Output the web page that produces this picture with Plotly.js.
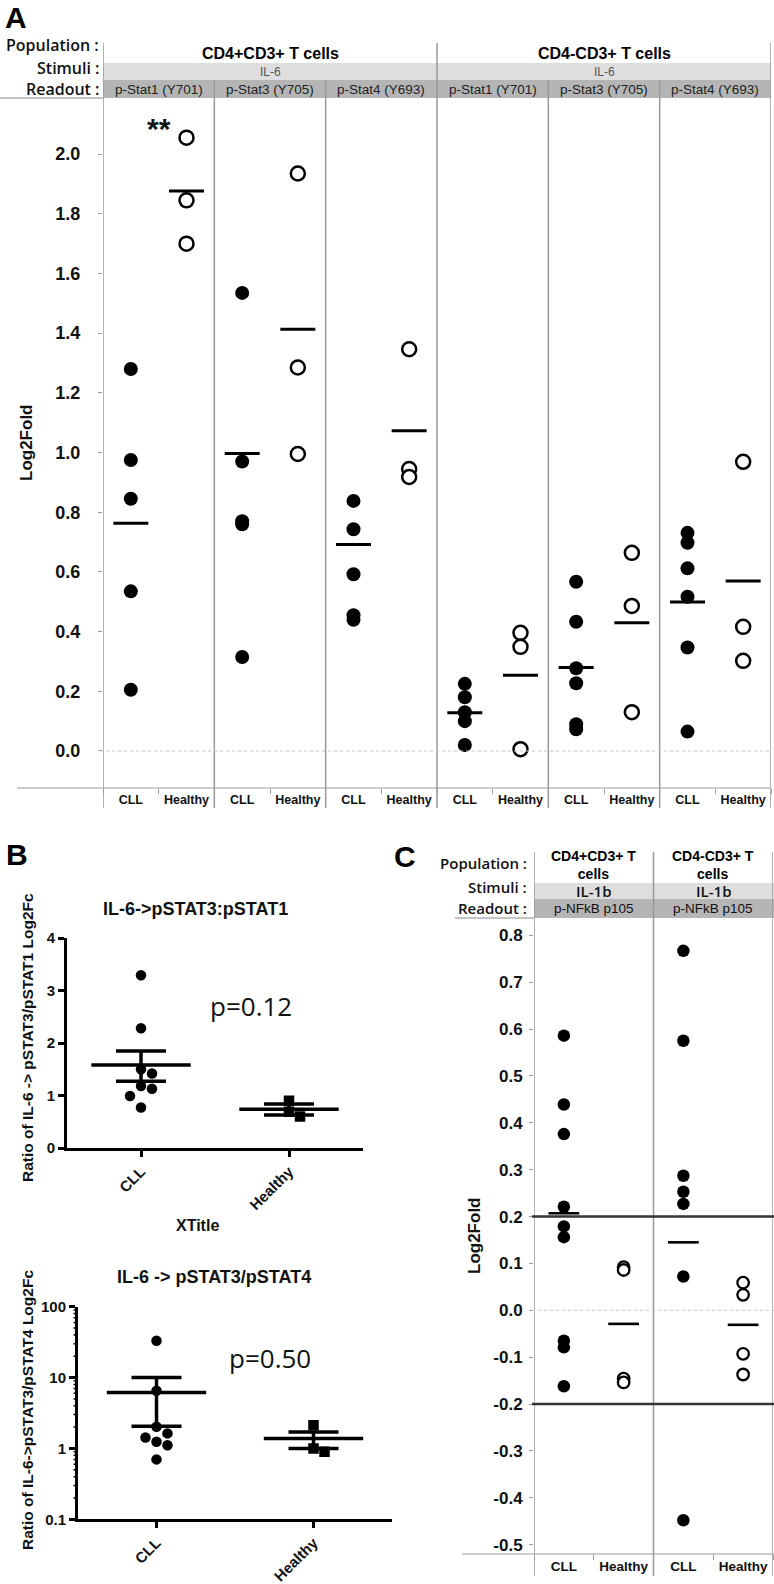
<!DOCTYPE html>
<html><head><meta charset="utf-8">
<script src="https://cdn.plot.ly/plotly-3.0.1.min.js"></script>
<style>html,body{margin:0;padding:0;background:#fff}</style>
</head><body><div id="chart" style="width:774px;height:1584px"></div>
<script>
// ---------------- DATA ----------------
const groups = ['CLL', 'Healthy'];

// Panel A
const aPopulations = ['CD4+CD3+ T cells', 'CD4-CD3+ T cells'];
const aStimulus = 'IL-6';
const aReadouts = ['p-Stat1 (Y701)', 'p-Stat3 (Y705)', 'p-Stat4 (Y693)'];
const aRowLabels = ['Population :', 'Stimuli :', 'Readout :'];
const aYTicks = [0, 0.2, 0.4, 0.6, 0.8, 1.0, 1.2, 1.4, 1.6, 1.8, 2.0];
// panel order: CD4+ Stat1, CD4+ Stat3, CD4+ Stat4, CD4- Stat1, CD4- Stat3, CD4- Stat4
const aCLL_stat1_cd4p = [1.28, 0.975, 0.845, 0.535, 0.205];
const aCLL_stat3_cd4p = [1.535, 0.97, 0.77, 0.76, 0.315];
const aCLL_stat4_cd4p = [0.838, 0.743, 0.592, 0.455, 0.44];
const aCLL_stat1_cd4n = [0.225, 0.18, 0.13, 0.10, 0.02];
const aCLL_stat3_cd4n = [0.567, 0.433, 0.277, 0.227, 0.09, 0.073];
const aCLL_stat4_cd4n = [0.731, 0.698, 0.612, 0.517, 0.347, 0.065];
const aHealthy_stat1_cd4p = [2.055, 1.845, 1.70];
const aHealthy_stat3_cd4p = [1.935, 1.285, 0.995];
const aHealthy_stat4_cd4p = [1.346, 0.945, 0.918];
const aHealthy_stat1_cd4n = [0.396, 0.349, 0.006];
const aHealthy_stat3_cd4n = [0.664, 0.486, 0.13];
const aHealthy_stat4_cd4n = [0.969, 0.416, 0.302];
const aCLLMeans = [0.763, 0.997, 0.692, 0.128, 0.28, 0.499];
const aHealthyMeans = [1.876, 1.413, 1.073, 0.254, 0.43, 0.57];
const aSignif = ['**', '', '', '', '', ''];

// Panel B (top)
const b1Title = 'IL-6->pSTAT3:pSTAT1';
const b1YTitle = 'Ratio of IL-6 -> pSTAT3/pSTAT1 Log2Fc';
const b1XTitle = 'XTitle';
const b1P = 'p=0.12';
const b1YTicks = [0, 1, 2, 3, 4];
const b1CLL = [3.29, 2.28, 1.50, 1.42, 1.18, 1.13, 0.99, 0.77];
const b1Healthy = [0.90, 0.69, 0.60];
const b1Mean = [1.58, 0.74];
const b1SemHigh = [1.85, 0.84];
const b1SemLow = [1.27, 0.63];

// Panel B (bottom)
const b2Title = 'IL-6 -> pSTAT3/pSTAT4';
const b2YTitle = 'Ratio of IL-6->pSTAT3/pSTAT4 Log2Fc';
const b2P = 'p=0.50';
const b2YTicks = [0.1, 1, 10, 100];
const b2YTickText = ['0.1', '1', '10', '100'];
const b2CLL = [33, 6.5, 2.02, 1.63, 1.43, 1.24, 1.11, 0.70];
const b2Healthy = [2.13, 1.0, 0.9];
const b2Mean = [6.17, 1.38];
const b2SemHigh = [10.0, 1.71];
const b2SemLow = [2.05, 1.0];

// Panel C
const cPopulations = ['CD4+CD3+ T<br>cells', 'CD4-CD3+ T<br>cells'];
const cStimulus = 'IL-1b';
const cReadout = 'p-NFkB p105';
const cYTicks = [-0.5, -0.4, -0.3, -0.2, -0.1, 0.0, 0.1, 0.2, 0.3, 0.4, 0.5, 0.6, 0.7, 0.8];
const cCLL_cd4p = [0.586, 0.439, 0.376, 0.221, 0.179, 0.156, -0.065, -0.079, -0.162];
const cCLL_cd4n = [0.767, 0.575, 0.287, 0.253, 0.227, 0.072, -0.448];
const cHealthy_cd4p = [0.092, 0.086, -0.146, -0.154];
const cHealthy_cd4n = [0.059, 0.033, -0.093, -0.137];
const cCLLMeans = [0.207, 0.145];
const cHealthyMeans = [-0.029, -0.031];
const cThresholds = [0.2, -0.2];

// ---------------- LAYOUT HELPERS ----------------
const W = 774, H = 1584;
const X = px => px / W;
const Y = py => 1 - py / H;
const NARROW = "'Liberation Sans Narrow', 'Arial Narrow', 'Liberation Sans', Arial, sans-serif";
const SANS = "'Liberation Sans', Arial, sans-serif";
const OPEN = "'Open Sans', 'Liberation Sans', sans-serif";

const aCLL = [aCLL_stat1_cd4p, aCLL_stat3_cd4p, aCLL_stat4_cd4p, aCLL_stat1_cd4n, aCLL_stat3_cd4n, aCLL_stat4_cd4n];
const aHealthy = [aHealthy_stat1_cd4p, aHealthy_stat3_cd4p, aHealthy_stat4_cd4p, aHealthy_stat1_cd4n, aHealthy_stat3_cd4n, aHealthy_stat4_cd4n];
const cCLL = [cCLL_cd4p, cCLL_cd4n];
const cHealthy = [cHealthy_cd4p, cHealthy_cd4n];

// geometry (pixels)
const A = {l: 103, r: 771, t: 98, b: 788};
const B1 = {l: 67, r: 363, t: 938, b: 1148};
const B2 = {l: 78, r: 392, t: 1306.7, b: 1519.3};
const C = {l: 534, r: 773, t: 918, b: 1554};

const filled = (s) => ({symbol: 'circle', size: s, color: '#000', line: {width: 0}});
const open = (s, w) => ({symbol: 'circle', size: s, color: '#fff', line: {color: '#000', width: w}});
const meanMk = (s, w) => ({symbol: 'line-ew', size: s, color: '#000', line: {color: '#000', width: w}});

// simple beeswarm: returns x offsets in axis units
function swarm(vals, toPx, pxPerUnit, d) {
  const order = vals.map((v, i) => i).sort((a, b) => vals[b] - vals[a]);
  const placed = [];
  const off = vals.map(() => 0);
  const seq = [0, 1, -1, 2, -2, 3, -3];
  for (const i of order) {
    const yp = toPx(vals[i]);
    for (const k of seq) {
      const xo = k * d;
      if (placed.every(p => Math.hypot(p.x - xo, p.y - yp) >= d * 0.98)) {
        off[i] = xo / pxPerUnit; placed.push({x: xo, y: yp}); break;
      }
    }
  }
  return off;
}

const traces = [];
// ---- Panel A traces ----
for (let i = 0; i < aCLL.length; i++) {
  [aCLL[i], aHealthy[i]].forEach((vals, g) => {
    traces.push({type: 'scatter', mode: 'markers', xaxis: 'x', yaxis: 'y', hoverinfo: 'skip',
      x: vals.map(() => 2 * i + g + 0.5), y: vals,
      marker: g === 0 ? filled(14) : open(14, 2.5)});
  });
  traces.push({type: 'scatter', mode: 'markers', xaxis: 'x', yaxis: 'y', hoverinfo: 'skip',
    x: [2 * i + 0.5, 2 * i + 1.5], y: [aCLLMeans[i], aHealthyMeans[i]], marker: meanMk(25, 3)});
}

// ---- Panel B traces ----
function bTraces(cll, healthy, mean, hi, lo, xa, ya, toPx, pxPerUnit) {
  const offC = swarm(cll, toPx, pxPerUnit, 11);
  const offH = swarm(healthy, toPx, pxPerUnit, 11);
  traces.push({type: 'scatter', mode: 'markers', xaxis: xa, yaxis: ya, hoverinfo: 'skip',
    x: cll.map((v, k) => 0 + offC[k]), y: cll, marker: filled(10.5)});
  traces.push({type: 'scatter', mode: 'markers', xaxis: xa, yaxis: ya, hoverinfo: 'skip',
    x: healthy.map((v, k) => 1 + offH[k]), y: healthy, marker: {symbol: 'square', size: 10.5, color: '#000'}});
  traces.push({type: 'scatter', mode: 'markers', xaxis: xa, yaxis: ya, hoverinfo: 'skip',
    x: [0, 1], y: mean, marker: meanMk(71, 3.5),
    error_y: {type: 'data', symmetric: false, array: hi.map((h, k) => h - mean[k]),
      arrayminus: lo.map((l, k) => mean[k] - l), width: 25, thickness: 3.5, color: '#000'}});
}
const b1PxPerY = (B1.b - B1.t) / 4;
bTraces(b1CLL, b1Healthy, b1Mean, b1SemHigh, b1SemLow, 'x2', 'y2', v => -v * b1PxPerY, (B1.r - B1.l) / 2);
const b2PxPerDec = (B2.b - B2.t) / 3;
bTraces(b2CLL, b2Healthy, b2Mean, b2SemHigh, b2SemLow, 'x3', 'y3', v => -Math.log10(v) * b2PxPerDec, (B2.r - B2.l) / 2);

// ---- Panel C traces ----
for (let i = 0; i < cCLL.length; i++) {
  [cCLL[i], cHealthy[i]].forEach((vals, g) => {
    traces.push({type: 'scatter', mode: 'markers', xaxis: 'x4', yaxis: 'y4', hoverinfo: 'skip',
      x: vals.map(() => 2 * i + g + 0.5), y: vals,
      marker: g === 0 ? filled(12.5) : open(11.5, 2.3)});
  });
  traces.push({type: 'scatter', mode: 'markers', xaxis: 'x4', yaxis: 'y4', hoverinfo: 'skip',
    x: [2 * i + 0.5, 2 * i + 1.5], y: [cCLLMeans[i], cHealthyMeans[i]], marker: meanMk(22, 2.6)});
}

// ---------------- SHAPES ----------------
const shapes = [];
const gray = '#9a9a9a';
function rectPx(x0, y0, x1, y1, fill) {
  shapes.push({type: 'rect', xref: 'paper', yref: 'paper', x0: X(x0), x1: X(x1), y0: Y(y1), y1: Y(y0),
    fillcolor: fill, line: {width: 0}, layer: 'below'});
}
function linePx(x0, y0, x1, y1, color, width, dash) {
  shapes.push({type: 'line', xref: 'paper', yref: 'paper', x0: X(x0), x1: X(x1), y0: Y(y0), y1: Y(y1),
    line: {color: color, width: width, dash: dash || 'solid'}});
}
// A header bands
rectPx(A.l, 63, A.r, 80, '#dedede');
rectPx(A.l, 80, A.r, 98, '#b5b5b5');
linePx(0, 98, A.l, 98, '#8a8a8a', 1);
// A separators
for (let k = 0; k <= 6; k++) {
  const outer = (k % 3 === 0);
  shapes.push({type: 'line', xref: 'x', yref: 'paper', x0: 2 * k, x1: 2 * k,
    y0: Y(808), y1: Y(outer ? 43 : 80), line: {color: gray, width: 1.5}});
}
linePx(17, A.b, A.r, A.b, gray, 1.2);
shapes.push({type: 'line', xref: 'paper', yref: 'y', x0: X(100), x1: X(A.r), y0: 0, y1: 0,
  line: {color: '#c4c4c4', width: 1, dash: 'dot'}});

// B2 log-axis minor ticks (2..9 of each decade)
const logMinor = [];
for (let e = -1; e < 2; e++) for (let m = 2; m <= 9; m++) logMinor.push(m * Math.pow(10, e));
logMinor.forEach(v => shapes.push({type: 'line', xref: 'paper', yref: 'y3', x0: X(B2.l - 4.5), x1: X(B2.l),
  y0: v, y1: v, line: {color: '#000', width: 1.5}}));

// C header bands
rectPx(C.l, 883, 774, 899, '#dedede');
rectPx(C.l, 899, 774, 918, '#b5b5b5');
linePx(455, 918, C.l, 918, '#8a8a8a', 1);
for (let k = 0; k <= 2; k++) {
  shapes.push({type: 'line', xref: 'x4', yref: 'paper', x0: 2 * k, x1: 2 * k,
    y0: Y(1576), y1: Y(852), line: {color: gray, width: 1.5}});
}
linePx(462, C.b, 774, C.b, gray, 1.2);
shapes.push({type: 'line', xref: 'paper', yref: 'y4', x0: X(C.l - 2), x1: X(774), y0: 0, y1: 0,
  line: {color: '#c4c4c4', width: 1, dash: 'dot'}});
cThresholds.forEach(t => shapes.push({type: 'line', xref: 'paper', yref: 'y4', x0: X(C.l - 2), x1: X(774),
  y0: t, y1: t, line: {color: '#333', width: 2.6}}));

// ---------------- ANNOTATIONS ----------------
const anns = [];
function ann(text, x, y, font, extra) {
  anns.push(Object.assign({text: text, x: X(x), y: Y(y), xref: 'paper', yref: 'paper', showarrow: false,
    xanchor: 'center', yanchor: 'middle', font: Object.assign({color: '#111'}, font)}, extra || {}));
}
// Panel letters
ann('A', 3, 18, {family: SANS, size: 30, weight: 'bold', color: '#000'}, {xanchor: 'left'});
ann('B', 4, 854, {family: SANS, size: 30, weight: 'bold', color: '#000'}, {xanchor: 'left'});
ann('C', 392, 856, {family: SANS, size: 30, weight: 'bold', color: '#000'}, {xanchor: 'left'});

// A header
const aRowY = [45, 68, 89];
aRowLabels.forEach((t, k) => ann(t, 101, aRowY[k], {family: OPEN, size: 16, weight: 600}, {xanchor: 'right'}));
const aPanelW = (A.r - A.l) / 6;
aPopulations.forEach((t, p) => {
  const cx = A.l + aPanelW * (3 * p + 1.5);
  ann(t, cx, 54, {family: SANS, size: 16, weight: 'bold', color: '#000'});
  ann(aStimulus, cx, 72, {family: SANS, size: 12, color: '#555'});
  aReadouts.forEach((r, j) => ann(r, A.l + aPanelW * (3 * p + j + 0.5), 89.5, {family: SANS, size: 13.5, color: '#222'}));
});
aSignif.forEach((s, i) => { if (s) anns.push({text: s, xref: 'x', yref: 'y', x: 2 * i + 1, y: 2.085, showarrow: false,
  font: {family: SANS, size: 30, weight: 'bold', color: '#111'}}); });
ann('Log2Fold', 27, 443, {family: SANS, size: 17, weight: 'bold'}, {textangle: -90});

// B
ann(b1Title, 195, 909, {family: SANS, size: 18, weight: 'bold'});
ann(b1P, 251, 1006, {family: OPEN, size: 26, color: '#111'});
ann(b1XTitle, 197, 1225, {family: SANS, size: 16, weight: 'bold'});
ann(b1YTitle, 27, 1038, {family: SANS, size: 15.5, weight: 'bold'}, {textangle: -90});
ann(b2Title, 214, 1277, {family: SANS, size: 18, weight: 'bold'});
ann(b2P, 270, 1358, {family: OPEN, size: 26, color: '#111'});
ann(b2YTitle, 27, 1410, {family: SANS, size: 15.5, weight: 'bold'}, {textangle: -90});

// C header
const cRowY = [863, 887, 908];
aRowLabels.forEach((t, k) => ann(t, 529, cRowY[k], {family: OPEN, size: 15, weight: 600}, {xanchor: 'right'}));
const cPanelW = (C.r - C.l) / 2;
cPopulations.forEach((t, p) => {
  const cx = C.l + cPanelW * (p + 0.5);
  ann(t, cx, 865, {family: SANS, size: 14, weight: 'bold', color: '#000'});
  ann(cStimulus, cx, 891, {family: OPEN, size: 15, weight: 600, color: '#111'});
  ann(cReadout, cx, 908.5, {family: SANS, size: 13.5, color: '#111'});
});
ann('Log2Fold', 474, 1236, {family: SANS, size: 17, weight: 'bold'}, {textangle: -90});

// ---------------- AXES ----------------
const aTickVals = [], aTickText = [];
for (let i = 0; i < 6; i++) groups.forEach((g, k) => { aTickVals.push(2 * i + k + 0.5); aTickText.push(g); });
const cTickVals = [], cTickText = [];
for (let i = 0; i < 2; i++) groups.forEach((g, k) => { cTickVals.push(2 * i + k + 0.5); cTickText.push(g); });

const common = {showgrid: false, zeroline: false, fixedrange: true};
const layout = {
  width: W, height: H, margin: {l: 0, r: 0, t: 0, b: 0}, showlegend: false,
  paper_bgcolor: '#fff', plot_bgcolor: 'rgba(0,0,0,0)',
  xaxis: Object.assign({}, common, {domain: [X(A.l), X(A.r)], range: [0, 12], anchor: 'y', showline: false,
    tickmode: 'array', tickvals: aTickVals, ticktext: aTickText, ticks: '', ticklabelstandoff: 2,
    tickfont: {family: NARROW, size: 12.5, weight: 'bold', color: '#111'},
    minor: {tick0: 0, dtick: 1, ticks: 'outside', ticklen: 5, tickcolor: gray, tickwidth: 1, showgrid: false}}),
  yaxis: Object.assign({}, common, {domain: [Y(A.b), Y(A.t)], range: [-0.124, 2.188], anchor: 'x', showline: false,
    tickmode: 'array', tickvals: aYTicks, ticktext: aYTicks.map(v => v.toFixed(1)),
    ticks: 'outside', ticklen: 4, tickcolor: gray, ticklabelstandoff: 14,
    tickfont: {family: NARROW, size: 18, weight: 'bold', color: '#111'}}),
  xaxis2: Object.assign({}, common, {domain: [X(B1.l), X(B1.r)], range: [-0.5, 1.5], anchor: 'y2',
    tickmode: 'array', tickvals: [0, 1], ticktext: groups, tickangle: -45,
    ticks: 'outside', ticklen: 6, tickwidth: 3, tickcolor: '#000', showline: true, linewidth: 3, linecolor: '#000',
    tickfont: {family: SANS, size: 15, weight: 'bold', color: '#111'}}),
  yaxis2: Object.assign({}, common, {domain: [Y(B1.b), Y(B1.t)], range: [0, 4], anchor: 'x2',
    tickmode: 'array', tickvals: b1YTicks, ticktext: b1YTicks.map(String),
    ticks: 'outside', ticklen: 6, tickwidth: 3, tickcolor: '#000', showline: true, linewidth: 3, linecolor: '#000',
    tickfont: {family: SANS, size: 15, weight: 'bold', color: '#111'}}),
  xaxis3: Object.assign({}, common, {domain: [X(B2.l), X(B2.r)], range: [-0.5, 1.5], anchor: 'y3',
    tickmode: 'array', tickvals: [0, 1], ticktext: groups, tickangle: -45,
    ticks: 'outside', ticklen: 6, tickwidth: 3, tickcolor: '#000', showline: true, linewidth: 3, linecolor: '#000',
    tickfont: {family: SANS, size: 15, weight: 'bold', color: '#111'}}),
  yaxis3: Object.assign({}, common, {domain: [Y(B2.b), Y(B2.t)], type: 'log', range: [-1, 2], anchor: 'x3',
    tickmode: 'array', tickvals: b2YTicks, ticktext: b2YTickText,
    ticks: 'outside', ticklen: 6, tickwidth: 3, tickcolor: '#000', showline: true, linewidth: 3, linecolor: '#000',
    tickfont: {family: SANS, size: 15, weight: 'bold', color: '#111'}}),
  xaxis4: Object.assign({}, common, {domain: [X(C.l), X(C.r)], range: [0, 4], anchor: 'y4', showline: false,
    tickmode: 'array', tickvals: cTickVals, ticktext: cTickText, ticks: '', ticklabelstandoff: 2,
    tickfont: {family: SANS, size: 13.5, weight: 'bold', color: '#111'},
    minor: {tick0: 0, dtick: 1, ticks: 'outside', ticklen: 5, tickcolor: gray, tickwidth: 1, showgrid: false}}),
  yaxis4: Object.assign({}, common, {domain: [Y(C.b), Y(C.t)], range: [-0.52, 0.837], anchor: 'x4', showline: false,
    tickmode: 'array', tickvals: cYTicks, ticktext: cYTicks.map(v => v.toFixed(1)),
    ticks: 'outside', ticklen: 4, tickcolor: gray, ticklabelstandoff: 3,
    tickfont: {family: SANS, size: 17, weight: 'bold', color: '#111'}}),
  shapes: shapes,
  annotations: anns
};

Plotly.newPlot('chart', traces, layout, {displayModeBar: false, staticPlot: true});
</script>
</body></html>
